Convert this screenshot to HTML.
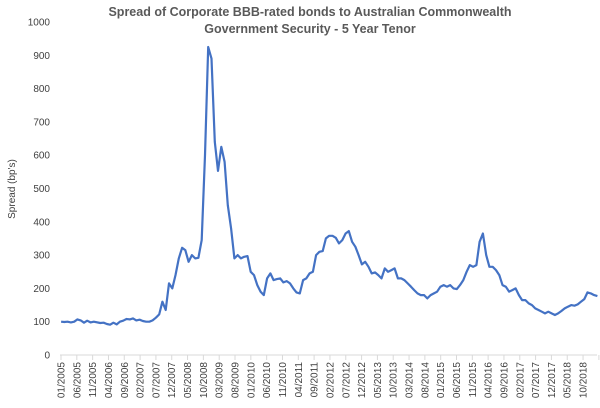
<!DOCTYPE html>
<html><head><meta charset="utf-8"><style>
body{margin:0;background:#fff;font-family:"Liberation Sans",sans-serif;}
</style></head><body>
<svg id="s" width="600" height="403" xmlns="http://www.w3.org/2000/svg" font-family="Liberation Sans, sans-serif">
<text x="310" y="16" text-anchor="middle" font-size="12.5" font-weight="bold" fill="#595959">Spread of Corporate BBB-rated bonds to Australian Commonwealth</text>
<text x="310" y="33" text-anchor="middle" font-size="12.5" font-weight="bold" fill="#595959">Government Security - 5 Year Tenor</text>
<text transform="translate(15,189) rotate(-90)" text-anchor="middle" font-size="10" fill="#404040">Spread (bp's)</text>
<g id="yl" font-size="10" fill="#404040" text-anchor="end"></g>
<line x1="60" y1="355" x2="597" y2="355" stroke="#d9d9d9" stroke-width="1"/>
<g id="xt" stroke="#d9d9d9"></g>
<g id="xl" font-size="10" fill="#404040"></g>
<polyline id="pl" fill="none" stroke="#4472c4" stroke-width="2.2" stroke-linejoin="round"/>
</svg>
<script>
var NS="http://www.w3.org/2000/svg";
function Y(v){return 355-0.333*v;}
function X(m){return 61+3.164*m;}
function XD(m){return 48+3.27*m;}
var yl=document.getElementById('yl');
for(var v=0;v<=1000;v+=100){var t=document.createElementNS(NS,'text');t.setAttribute('x',50);t.setAttribute('y',Y(v)+3.5);t.textContent=v;yl.appendChild(t);}
var xl=document.getElementById('xl'),xt=document.getElementById('xt');
for(var i=0;i<=34;i++){var m=i*5,x=X(m);var l=document.createElementNS(NS,'line');l.setAttribute('x1',x);l.setAttribute('x2',x);l.setAttribute('y1',355);l.setAttribute('y2',360);xt.appendChild(l);
if(i<34){var mo=m%12+1,yr=2005+Math.floor(m/12);var t=document.createElementNS(NS,'text');t.setAttribute('transform','translate('+(x+3.5)+',362) rotate(-90)');t.setAttribute('text-anchor','end');t.textContent=(mo<10?'0':'')+mo+'/'+yr;xl.appendChild(t);}}
var k=[[4,100],[5,99],[6,100],[7,98],[8,100],[9,107],[10,104],[11,97],[12,103],[13,98],[14,100],[16,96],[17,97],[18,93],[19,91],[20,97],[21,92],[22,100],[23,103],[24,108],[25,107],[26,110],[27,104],[28,106],[29,102],[30,100],[31,100],[32,104],[33,112],[34,122],[35,160],[36,135],[37,215],[38,200],[39,240],[40,290],[41,322],[42,315],[43,280],[44,300],[45,290],[46,292],[47,345],[48,600],[49,925],[50,890],[51,640],[52,553],[53,625],[54,580],[55,450],[56,380],[57,290],[58,300],[59,290],[60,295],[61,297],[62,250],[63,240],[64,210],[65,190],[66,180],[67,230],[68,245],[69,225],[70,228],[71,230],[72,218],[73,222],[74,215],[75,200],[76,188],[77,185],[78,225],[79,230],[80,245],[81,250],[82,300],[83,310],[84,312],[85,350],[86,358],[87,358],[88,352],[89,335],[90,345],[91,365],[92,372],[93,340],[94,325],[95,300],[96,272],[97,280],[98,265],[99,245],[100,248],[101,240],[102,230],[103,260],[104,250],[105,255],[106,260],[107,230],[108,230],[109,225],[110,215],[111,205],[112,195],[113,185],[114,180],[115,180],[116,170],[117,180],[118,185],[119,190],[120,205],[121,210],[122,205],[123,210],[124,200],[125,198],[126,210],[127,225],[128,250],[129,270],[130,265],[131,270],[132,340],[133,365],[134,300],[135,265],[136,265],[137,255],[138,240],[139,210],[140,205],[141,190],[142,195],[143,200],[144,180],[145,165],[146,165],[147,155],[148,150],[149,140],[150,135],[151,130],[152,125],[153,130],[154,125],[155,120],[156,125],[157,132],[158,140],[159,145],[160,150],[161,148],[162,152],[163,160],[164,168],[165,188],[166,185],[167,180],[168,177]];
var p=k.map(function(a){return XD(a[0]).toFixed(1)+','+Y(a[1]).toFixed(1);}).join(' ');
document.getElementById('pl').setAttribute('points',p);
</script>
</body></html>
